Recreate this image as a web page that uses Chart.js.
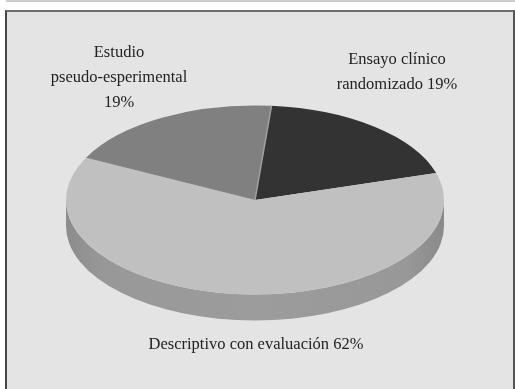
<!DOCTYPE html>
<html lang="es">
<head>
<meta charset="utf-8">
<title>Tipo de estudio</title>
<script src="https://cdn.jsdelivr.net/npm/chart.js@4"></script>
<style>
  html, body { margin: 0; padding: 0; background: #fff; }
  #strip { position: absolute; left: 6px; right: 0; top: 0; height: 2px; background: #cccccc; }
  #panel {
    position: absolute; left: 5px; top: 10px; width: 510px; height: 379px;
    background: #e4e4e4;
    border-top: 2px solid #6e6e6e; border-left: 2px solid #444; border-right: 2px solid #555;
    box-sizing: border-box;
  }
  canvas { position: absolute; left: 0; top: 0; }
</style>
</head>
<body>
<div id="strip"></div>
<div id="panel"></div>
<canvas id="pieChart" width="515" height="389"></canvas>
<script>
var categories = ['Ensayo clínico randomizado', 'Descriptivo con evaluación', 'Estudio pseudo-esperimental'];
var values = [19, 62, 19];
var sliceColors = ['#333333', '#c0c0c0', '#808080'];
var labelLines = [
  ['Ensayo clínico', 'randomizado 19%'],
  ['Descriptivo con evaluación 62%'],
  ['Estudio', 'pseudo-esperimental', '19%']
];

var TILT = 0.5;    // vertical squash of the pie
var DEPTH = 26;    // height of the rim

// Flattens the pie into an ellipse and puts a rim under it
var tiltPlugin = {
  id: 'tilt',
  beforeDatasetsDraw: function (chart) {
    var ctx = chart.ctx;
    var arc = chart.getDatasetMeta(0).data[0];
    var rx = arc.outerRadius, ry = rx * TILT;

    var rim = ctx.createLinearGradient(arc.x - rx, 0, arc.x + rx, 0);
    rim.addColorStop(0, '#8c8c8c');
    rim.addColorStop(0.1, '#989898');
    rim.addColorStop(0.5, '#9c9c9c');
    rim.addColorStop(0.9, '#989898');
    rim.addColorStop(1, '#8a8a8a');

    ctx.save();
    ctx.fillStyle = rim;
    ctx.beginPath();
    ctx.ellipse(arc.x, arc.y, rx, ry, 0, Math.PI, 0, true);
    ctx.lineTo(arc.x + rx, arc.y + DEPTH);
    ctx.ellipse(arc.x, arc.y + DEPTH, rx, ry, 0, 0, Math.PI, false);
    ctx.closePath();
    ctx.fill();
    ctx.restore();

    ctx.save();
    ctx.translate(0, arc.y);
    ctx.scale(1, TILT);
    ctx.translate(0, -arc.y);
  },
  afterDatasetsDraw: function (chart) {
    var ctx = chart.ctx;
    var arc = chart.getDatasetMeta(0).data[0];
    // pale seam between the two darker slices
    ctx.strokeStyle = '#a0a0a0';
    ctx.lineWidth = 1.5;
    ctx.beginPath();
    ctx.moveTo(arc.x, arc.y);
    ctx.lineTo(arc.x + arc.outerRadius * Math.cos(arc.startAngle),
               arc.y + arc.outerRadius * Math.sin(arc.startAngle));
    ctx.stroke();
    ctx.restore();
  }
};

// Category captions as plain canvas text
var captionPlugin = {
  id: 'captions',
  afterDraw: function (chart, args, opts) {
    var ctx = chart.ctx;
    ctx.save();
    ctx.font = opts.size + 'px "Liberation Serif"';
    ctx.fillStyle = opts.color;
    ctx.textAlign = 'center';
    ctx.textBaseline = 'alphabetic';
    labelLines.forEach(function (lines, i) {
      var pos = opts.anchors[i];
      lines.forEach(function (line, j) {
        ctx.fillText(line, pos.x, pos.y + j * opts.lineHeight);
      });
    });
    ctx.restore();
  }
};

new Chart(document.getElementById('pieChart').getContext('2d'), {
  type: 'pie',
  data: {
    labels: categories,
    datasets: [{
      data: values,
      backgroundColor: sliceColors,
      borderWidth: 0,
      hoverOffset: 0
    }]
  },
  options: {
    responsive: false,
    animation: false,
    rotation: 5,
    layout: { padding: { left: 66, right: 71, top: 11, bottom: 0 } },
    plugins: {
      legend: { display: false },
      tooltip: { enabled: false },
      captions: {
        size: 16.5,
        lineHeight: 25,
        color: '#222',
        anchors: [{ x: 397, y: 64 }, { x: 256, y: 349 }, { x: 119, y: 57 }]
      }
    }
  },
  plugins: [tiltPlugin, captionPlugin]
});
</script>
</body>
</html>
